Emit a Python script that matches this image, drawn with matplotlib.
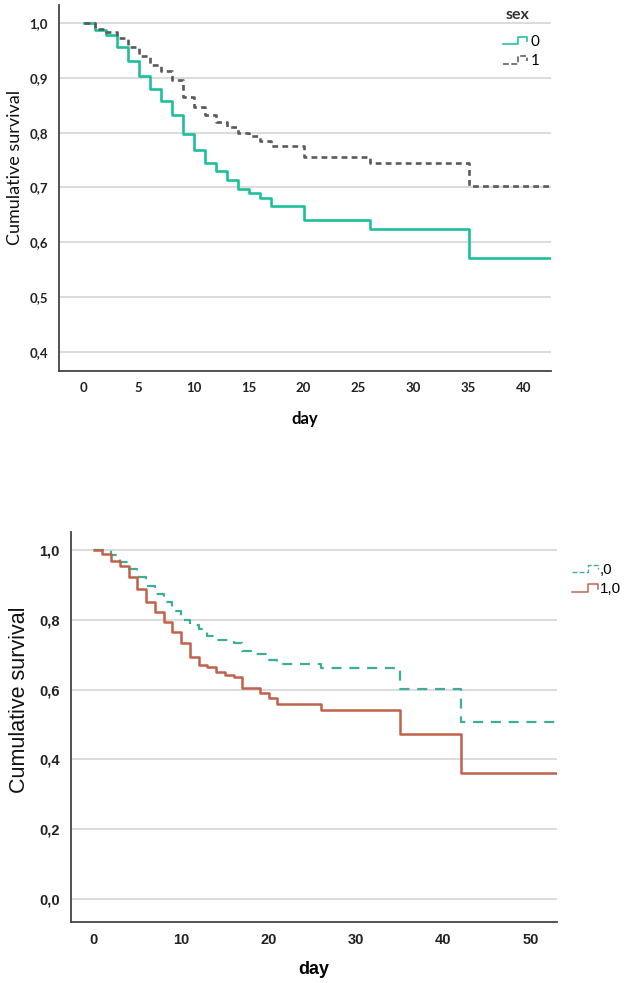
import matplotlib
matplotlib.use("Agg")
import matplotlib.pyplot as plt
from matplotlib.legend_handler import HandlerBase
from matplotlib.lines import Line2D
from matplotlib.ticker import FuncFormatter, MultipleLocator

# top chart: survival by sex
top_days_0 = [0, 1, 2, 3, 4, 5, 6, 7, 8, 9, 10, 11, 12, 13, 14, 15, 16, 17, 20, 26, 35, 43]
top_surv_0 = [1.0, 0.988, 0.979, 0.957, 0.931, 0.904, 0.880, 0.857, 0.833, 0.798, 0.769,
              0.745, 0.730, 0.713, 0.698, 0.690, 0.681, 0.667, 0.641, 0.624, 0.571, 0.571]
top_days_1 = [0, 1, 2, 3, 4, 5, 6, 7, 8, 9, 10, 11, 12, 13, 14, 15, 16, 17, 20, 26, 35, 43]
top_surv_1 = [1.0, 0.990, 0.984, 0.972, 0.957, 0.940, 0.924, 0.912, 0.897, 0.866, 0.847,
              0.833, 0.820, 0.810, 0.800, 0.793, 0.784, 0.775, 0.756, 0.745, 0.703, 0.703]
top_labels = ["0", "1"]
top_title = "sex"

# bottom chart: survival by group ,0 / 1,0
bot_days_0 = [0, 2, 3, 4, 5, 6, 7, 8, 9, 10, 11, 12, 13, 14, 16, 17, 18, 20, 21, 26, 35, 42, 54]
bot_surv_0 = [1.0, 0.985, 0.965, 0.947, 0.923, 0.897, 0.873, 0.851, 0.825, 0.801, 0.785, 0.775,
              0.755, 0.743, 0.734, 0.710, 0.703, 0.686, 0.673, 0.663, 0.602, 0.508, 0.508]
bot_days_1 = [0, 1, 2, 3, 4, 5, 6, 7, 8, 9, 10, 11, 12, 13, 14, 15, 16, 17, 19, 20, 21, 26,
              35, 42, 54]
bot_surv_1 = [1.0, 0.989, 0.969, 0.954, 0.922, 0.890, 0.852, 0.823, 0.795, 0.766, 0.733, 0.694,
              0.670, 0.665, 0.651, 0.642, 0.635, 0.604, 0.591, 0.575, 0.559, 0.542, 0.472, 0.36,
              0.36]
bot_labels = [",0", "1,0"]

W, H = 630, 983
TEAL = "#1dbf9c"
GREY = "#5a5a5a"
TEAL2 = "#3cae98"
RED = "#c0614a"
GRID = "#d2d2d2"
SPINE = "#444444"


class StepHandler(HandlerBase):
    # little step glyph like the SPSS legend
    def create_artists(self, legend, orig_handle, xdescent, ydescent, width, height,
                       fontsize, trans):
        lo = -ydescent + 0.15 * height
        hi = -ydescent + 0.85 * height
        xs = [-xdescent, -xdescent + 0.6 * width, -xdescent + 0.6 * width, -xdescent + width,
              -xdescent + width]
        ys = [lo, lo, hi, hi, 0.45 * height - ydescent]
        line = Line2D(xs, ys, color=orig_handle.get_color(), lw=orig_handle.get_linewidth() * 0.6,
                      linestyle=orig_handle.get_linestyle(), transform=trans)
        return [line]


def comma_fmt(v, pos):
    return f"{v:.1f}".replace(".", ",")


def px_axes(fig, left, top, right, bottom):
    return fig.add_axes([left / W, 1 - bottom / H, (right - left) / W, (bottom - top) / H])


def style_axes(ax, font, tick_size):
    for s in ["top", "right"]:
        ax.spines[s].set_visible(False)
    for s in ["left", "bottom"]:
        ax.spines[s].set_color(SPINE)
        ax.spines[s].set_linewidth(1.3)
    ax.yaxis.grid(True, color=GRID, lw=1.1)
    ax.set_axisbelow(True)
    ax.tick_params(length=0, pad=8)
    ax.yaxis.set_major_formatter(FuncFormatter(comma_fmt))
    for lab in ax.get_xticklabels() + ax.get_yticklabels():
        lab.set_fontfamily(font)
        lab.set_fontweight("bold")
        lab.set_fontsize(tick_size)
        lab.set_color("#222222")


fig = plt.figure(figsize=(W / 100, H / 100), dpi=100)

# ---- top chart
ax1 = px_axes(fig, 59, 5, 551, 371)
ax1.step(top_days_0, top_surv_0, where="post", color=TEAL, lw=1.9)
ax1.step(top_days_1, top_surv_1, where="post", color=GREY, lw=1.9, dashes=(2.2, 1.6))
ax1.set_xlim(-2.25, 42.5)
ax1.set_ylim(0.365, 1.033)
ax1.xaxis.set_major_locator(MultipleLocator(5))
ax1.set_yticks([0.4, 0.5, 0.6, 0.7, 0.8, 0.9, 1.0])
style_axes(ax1, "Lato", 9.5)
ax1.set_ylabel("Cumulative survival", fontfamily="Lato", fontsize=13, color="#111111")
ax1.yaxis.set_label_coords(-0.074, 0.555)
ax1.set_xlabel("day", fontfamily="Lato", fontweight="bold", fontsize=12, labelpad=12)
fig.text(518 / W, 1 - 15 / H, top_title, ha="center", va="center", fontfamily="Lato",
         fontweight="bold", fontsize=11.5, color="#333333")
h0 = Line2D([], [], color=TEAL, lw=1.9)
h1 = Line2D([], [], color=GREY, lw=1.9, dashes=(2.2, 1.6))
ax1.legend([h0, h1], top_labels, frameon=False, handler_map={Line2D: StepHandler()},
           loc="upper left", bbox_to_anchor=(503 / W, 1 - 35 / H),
           bbox_transform=fig.transFigure, prop={"family": "Lato", "size": 11},
           handlelength=1.6, handletextpad=0.2, labelspacing=0.35, borderpad=0,
           borderaxespad=0)

# ---- bottom chart
ax2 = px_axes(fig, 71, 532, 557, 922)
ax2.step(bot_days_0, bot_surv_0, where="post", color=TEAL2, lw=1.6, dashes=(4.5, 3.5))
ax2.step(bot_days_1, bot_surv_1, where="post", color=RED, lw=1.8)
ax2.set_xlim(-2.6, 53.0)
ax2.set_ylim(-0.066, 1.052)
ax2.xaxis.set_major_locator(MultipleLocator(10))
ax2.set_yticks([0.0, 0.2, 0.4, 0.6, 0.8, 1.0])
style_axes(ax2, "Liberation Sans", 10.5)
ax2.set_ylabel("Cumulative survival", fontfamily="Liberation Sans", fontsize=15.5,
               color="#111111")
ax2.yaxis.set_label_coords(-0.085, 0.57)
ax2.set_xlabel("day", fontfamily="Liberation Sans", fontweight="bold", fontsize=13,
               labelpad=10)
g0 = Line2D([], [], color=TEAL2, lw=1.6, dashes=(4.5, 3.5))
g1 = Line2D([], [], color=RED, lw=1.8)
ax2.legend([g0, g1], bot_labels, frameon=False, handler_map={Line2D: StepHandler()},
           loc="upper left", bbox_to_anchor=(572 / W, 1 - 563 / H),
           bbox_transform=fig.transFigure, prop={"family": "Liberation Sans", "size": 11},
           handlelength=1.7, handletextpad=0.1, labelspacing=0.35, borderpad=0,
           borderaxespad=0)

fig.savefig("out.png", dpi=100)
